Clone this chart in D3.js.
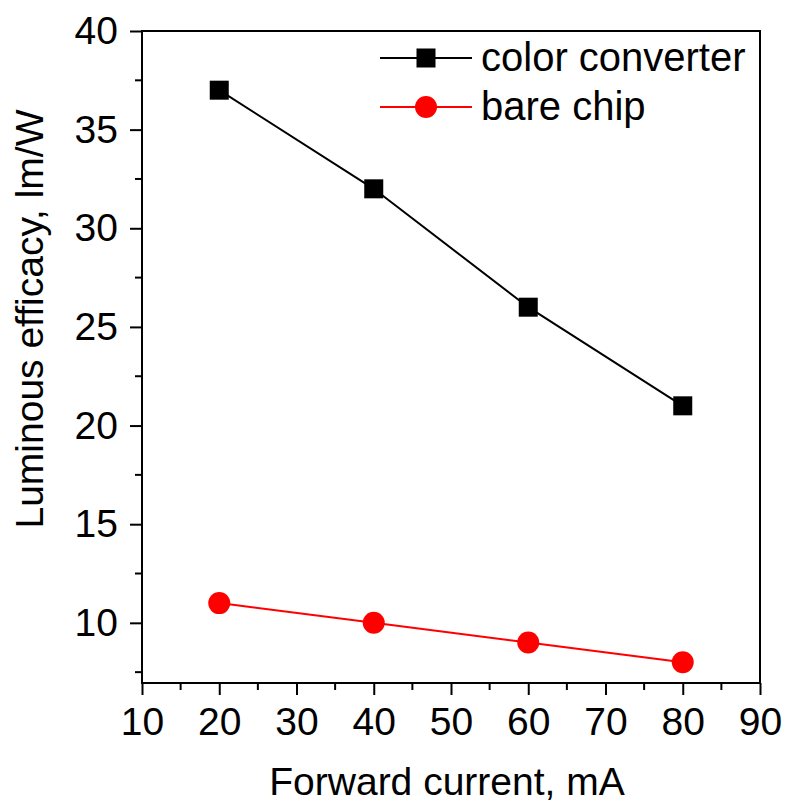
<!DOCTYPE html>
<html>
<head>
<meta charset="utf-8">
<script src="https://cdn.jsdelivr.net/npm/d3@7"></script>
<style>
  body { margin: 0; background: #fff; }
  svg { font-family: "Liberation Sans", Arial, sans-serif; }
</style>
</head>
<body>
<div id="chart"></div>
<script>
const current = [20, 40, 60, 80];
const converterEff = [37, 32, 26, 21];
const bareChipEff = [11, 10, 9, 8];
const xTicks = [10, 20, 30, 40, 50, 60, 70, 80, 90];
const yTicks = [10, 15, 20, 25, 30, 35, 40];
const seriesNames = ['color converter', 'bare chip'];

const W = 786, H = 806;
const margin = { top: 31, right: 26, bottom: 123, left: 142 };
const iw = W - margin.left - margin.right;
const ih = H - margin.top - margin.bottom;
const fs = 39;

const svg = d3.select('#chart').append('svg')
  .attr('width', W).attr('height', H);
const g = svg.append('g').attr('transform', `translate(${margin.left},${margin.top})`);

const x = d3.scaleLinear().domain([10, 90]).range([0, iw]);
const y = d3.scaleLinear().domain([6.95, 40]).range([ih, 0]);

// frame
g.append('rect').attr('width', iw).attr('height', ih)
  .attr('fill', 'none').attr('stroke', '#000').attr('stroke-width', 2);

// minor ticks
const xMinor = d3.range(15, 90, 10);
const yMinor = d3.range(7.5, 40, 5);
g.selectAll('.xminor').data(xMinor).enter().append('line')
  .attr('x1', d => x(d)).attr('x2', d => x(d))
  .attr('y1', ih).attr('y2', ih + 7)
  .attr('stroke', '#000').attr('stroke-width', 2);
g.selectAll('.yminor').data(yMinor).enter().append('line')
  .attr('y1', d => y(d)).attr('y2', d => y(d))
  .attr('x1', 0).attr('x2', -7)
  .attr('stroke', '#000').attr('stroke-width', 2);

const xAxis = g.append('g').attr('transform', `translate(0,${ih})`)
  .call(d3.axisBottom(x).tickValues(xTicks).tickSize(12).tickPadding(12));
const yAxis = g.append('g')
  .call(d3.axisLeft(y).tickValues(yTicks).tickSize(12).tickPadding(12));
[xAxis, yAxis].forEach(a => {
  a.attr('font-size', null).attr('font-family', null);
  a.select('.domain').remove();
  a.selectAll('line').attr('stroke-width', 2);
  a.selectAll('text').style('font-size', fs + 'px').attr('fill', '#000');
});

// axis titles
svg.append('text')
  .attr('x', 447).attr('y', 795)
  .attr('text-anchor', 'middle').style('font-size', fs + 'px')
  .text('Forward current, mA');
svg.append('text')
  .attr('transform', `translate(43,319) rotate(-90)`)
  .attr('text-anchor', 'middle').style('font-size', fs + 'px')
  .text('Luminous efficacy, lm/W');

const line = d3.line().x(d => x(d[0])).y(d => y(d[1]));
const conv = current.map((c, i) => [c, converterEff[i]]);
const bare = current.map((c, i) => [c, bareChipEff[i]]);

g.append('path').datum(conv).attr('d', line)
  .attr('fill', 'none').attr('stroke', '#000').attr('stroke-width', 2);
g.selectAll('.sq').data(conv).enter().append('rect')
  .attr('x', d => x(d[0]) - 9.5).attr('y', d => y(d[1]) - 9.5)
  .attr('width', 19).attr('height', 19).attr('fill', '#000');

g.append('path').datum(bare).attr('d', line)
  .attr('fill', 'none').attr('stroke', '#f00').attr('stroke-width', 2);
g.selectAll('.ci').data(bare).enter().append('circle')
  .attr('cx', d => x(d[0])).attr('cy', d => y(d[1]))
  .attr('r', 11).attr('fill', '#f00');

// legend
const legend = [
  { label: seriesNames[0], color: '#000', shape: 'square' },
  { label: seriesNames[1], color: '#f00', shape: 'circle' }
];
const lg = svg.append('g');
legend.forEach((d, i) => {
  const ly = 58 + i * 49;
  lg.append('line').attr('x1', 380).attr('x2', 472).attr('y1', ly).attr('y2', ly)
    .attr('stroke', d.color).attr('stroke-width', 2);
  if (d.shape === 'square') {
    lg.append('rect').attr('x', 426 - 9.5).attr('y', ly - 9.5)
      .attr('width', 19).attr('height', 19).attr('fill', d.color);
  } else {
    lg.append('circle').attr('cx', 426).attr('cy', ly).attr('r', 11).attr('fill', d.color);
  }
  lg.append('text').attr('x', 481).attr('y', ly + 13)
    .style('font-size', '40px')
    .text(d.label);
});
</script>
</body>
</html>
